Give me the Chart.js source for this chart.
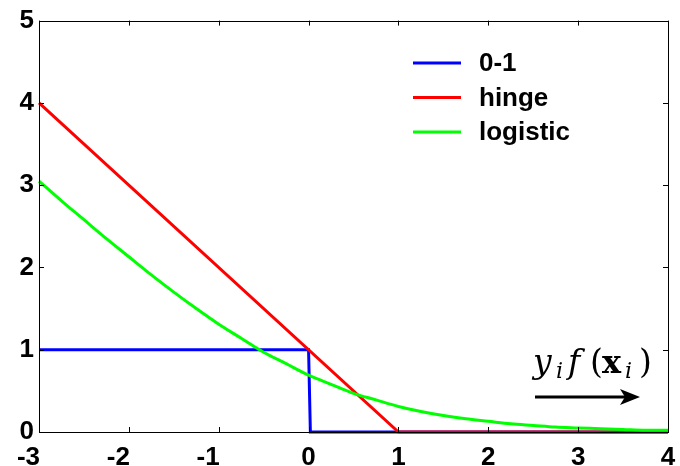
<!DOCTYPE html>
<html>
<head>
<meta charset="utf-8">
<script src="https://cdn.jsdelivr.net/npm/chart.js@4.4.1/dist/chart.umd.min.js"></script>
<style>
  html, body { margin: 0; padding: 0; background: #fff; }
  #wrap { width: 680px; height: 466px; position: relative; }
</style>
</head>
<body>
<div id="wrap"><canvas id="lossChart"></canvas></div>
<script>
// tick labels
const xTicks = [-3, -2, -1, 0, 1, 2, 3, 4];
const yTicks = [0, 1, 2, 3, 4, 5];

// 0-1 loss
const zeroOneX = [-3, 0, 0.02, 4];
const zeroOneY = [1, 1, 0, 0];

// hinge loss
const hingeX = [-3, 1, 4];
const hingeY = [4, 0, 0];

// logistic loss, every 0.25
const logisticX = [-3, -2.75, -2.5, -2.25, -2, -1.75, -1.5, -1.25, -1, -0.75, -0.5, -0.25,
  0, 0.25, 0.5, 0.75, 1, 1.25, 1.5, 1.75, 2, 2.25, 2.5, 2.75, 3, 3.25, 3.5, 3.75, 4];
const logisticY = [3.05, 2.81, 2.58, 2.35, 2.13, 1.91, 1.70, 1.50, 1.31, 1.14, 0.97, 0.83,
  0.69, 0.58, 0.47, 0.39, 0.31, 0.25, 0.20, 0.16, 0.13, 0.10, 0.08, 0.06, 0.05, 0.04, 0.03, 0.02, 0.02];

const legendLabels = ['0-1', 'hinge', 'logistic'];
const lineColors = ['#0000ff', '#ff0000', '#00ff00'];

const FONT = '"Liberation Sans", Arial, sans-serif';
const SERIF = '"DejaVu Serif", "Liberation Serif", serif';

function toPoints(xs, ys) {
  return xs.map((x, i) => ({ x: x, y: ys[i] }));
}

// frame, inward ticks, x tick labels, legend and the annotation arrow
const decorations = {
  id: 'decorations',
  afterDraw(chart) {
    const ctx = chart.ctx;
    const a = chart.chartArea;
    const xs = chart.scales.x;
    const ys = chart.scales.y;
    ctx.save();

    // box
    ctx.strokeStyle = '#000';
    ctx.lineWidth = 1;
    ctx.strokeRect(Math.round(a.left) + 0.5, Math.round(a.top) + 0.5,
      Math.round(a.right - a.left), Math.round(a.bottom - a.top));

    // inward ticks
    const tl = 5;
    ctx.beginPath();
    xTicks.forEach(v => {
      const px = Math.round(xs.getPixelForValue(v)) + 0.5;
      ctx.moveTo(px, a.bottom); ctx.lineTo(px, a.bottom - tl);
      ctx.moveTo(px, a.top); ctx.lineTo(px, a.top + tl);
    });
    yTicks.forEach(v => {
      const py = Math.round(ys.getPixelForValue(v)) + 0.5;
      ctx.moveTo(a.left, py); ctx.lineTo(a.left + tl, py);
      ctx.moveTo(a.right, py); ctx.lineTo(a.right - tl, py);
    });
    ctx.stroke();

    // x tick labels (negative ones sit left of the tick, like the original)
    ctx.fillStyle = '#000';
    ctx.font = 'bold 26px ' + FONT;
    ctx.textBaseline = 'alphabetic';
    xTicks.forEach(v => {
      const px = xs.getPixelForValue(v);
      if (v < 0) {
        ctx.textAlign = 'right';
        ctx.fillText(String(v), px + 1, a.bottom + 33);
      } else {
        ctx.textAlign = 'center';
        ctx.fillText(String(v), px, a.bottom + 33);
      }
    });

    // legend
    ctx.textAlign = 'left';
    ctx.textBaseline = 'middle';
    ctx.font = 'bold 26px ' + FONT;
    legendLabels.forEach((lab, i) => {
      const y = 63 + i * 34.5;
      ctx.strokeStyle = lineColors[i];
      ctx.lineWidth = 3;
      ctx.beginPath();
      ctx.moveTo(413, y); ctx.lineTo(461, y);
      ctx.stroke();
      ctx.fillStyle = '#000';
      ctx.fillText(lab, 479, y + 1);
    });

    // y_i f(x_i) label, glyph by glyph
    const base = 373;
    const parts = [
      { t: 'y', f: 'italic 33px ' + SERIF, x: 533, dy: 0 },
      { t: 'i', f: 'italic 22px ' + SERIF, x: 556, dy: 5 },
      { t: 'f', f: 'italic 33px ' + SERIF, x: 568, dy: 0 },
      { t: '(', f: '33px ' + SERIF, x: 590, dy: 0 },
      { t: 'x', f: 'bold 32px ' + SERIF, x: 602, dy: 0 },
      { t: 'i', f: 'italic 22px ' + SERIF, x: 625, dy: 5 },
      { t: ')', f: '33px ' + SERIF, x: 639, dy: 0 }
    ];
    ctx.textAlign = 'left';
    ctx.textBaseline = 'alphabetic';
    ctx.fillStyle = '#000';
    parts.forEach(p => {
      ctx.font = p.f;
      ctx.fillText(p.t, p.x, base + p.dy);
    });

    // arrow
    ctx.strokeStyle = '#000';
    ctx.lineWidth = 3;
    ctx.beginPath();
    ctx.moveTo(535, 397); ctx.lineTo(628, 397);
    ctx.stroke();
    ctx.beginPath();
    ctx.moveTo(640, 397);
    ctx.lineTo(620, 389);
    ctx.lineTo(625, 397);
    ctx.lineTo(620, 405);
    ctx.closePath();
    ctx.fillStyle = '#000';
    ctx.fill();

    ctx.restore();
  }
};

new Chart(document.getElementById('lossChart'), {
  type: 'line',
  data: {
    datasets: [
      { label: legendLabels[0], data: toPoints(zeroOneX, zeroOneY), borderColor: lineColors[0], order: 3 },
      { label: legendLabels[1], data: toPoints(hingeX, hingeY), borderColor: lineColors[1], order: 2 },
      { label: legendLabels[2], data: toPoints(logisticX, logisticY), borderColor: lineColors[2], order: 1,
        cubicInterpolationMode: 'monotone' }
    ]
  },
  options: {
    responsive: true,
    maintainAspectRatio: false,
    animation: false,
    layout: { padding: { top: 20, right: 12, left: 0, bottom: 0 } },
    elements: {
      line: { borderWidth: 3, tension: 0 },
      point: { radius: 0, hoverRadius: 0 }
    },
    datasets: { line: { clip: false } },
    plugins: {
      legend: { display: false },
      tooltip: { enabled: false }
    },
    scales: {
      x: {
        type: 'linear',
        min: -3,
        max: 4,
        afterFit: s => { s.height = 34; },
        ticks: { display: false, stepSize: 1 },
        grid: { display: false },
        border: { display: false }
      },
      y: {
        type: 'linear',
        min: 0,
        max: 5,
        afterFit: s => { s.width = 39; },
        ticks: {
          stepSize: 1,
          padding: 5,
          color: '#000',
          font: { family: FONT, size: 26, weight: 'bold' }
        },
        grid: { display: false, drawTicks: false },
        border: { display: false }
      }
    }
  },
  plugins: [decorations]
});
</script>
</body>
</html>
